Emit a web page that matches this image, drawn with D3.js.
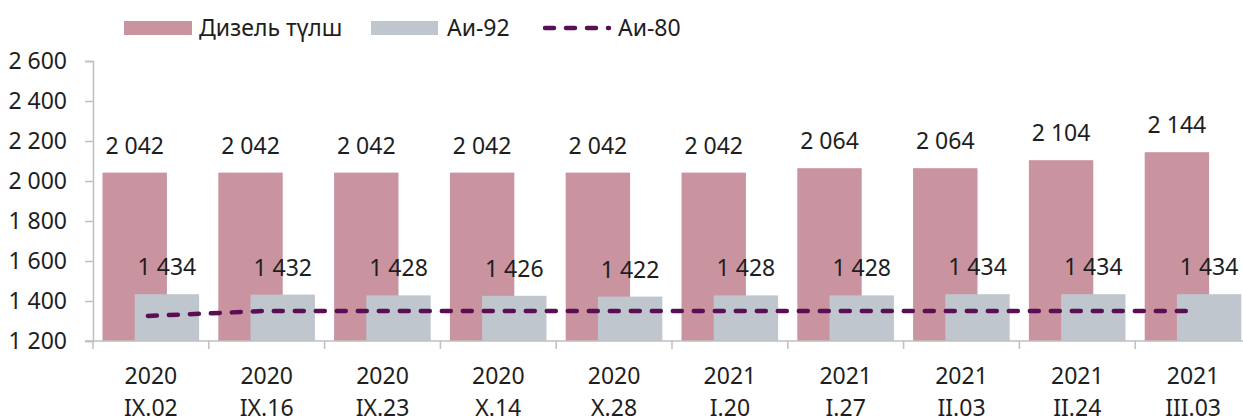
<!DOCTYPE html>
<html>
<head>
<meta charset="utf-8">
<script src="https://cdn.jsdelivr.net/npm/d3@7"></script>
<style>
  body { margin: 0; background: #fff; }
  svg { display: block; font-family: "Noto Sans", "Open Sans", sans-serif; }
</style>
</head>
<body>
<svg width="1243" height="417"></svg>
<script>
// data
var years = ["2020", "2020", "2020", "2020", "2020", "2021", "2021", "2021", "2021", "2021"];
var dates = ["IX.02", "IX.16", "IX.23", "X.14", "X.28", "I.20", "I.27", "II.03", "II.24", "III.03"];
var diesel = [2042, 2042, 2042, 2042, 2042, 2042, 2064, 2064, 2104, 2144];
var ai92 = [1434, 1432, 1428, 1426, 1422, 1428, 1428, 1434, 1434, 1434];
var ai80 = [1325, 1350, 1350, 1350, 1350, 1350, 1350, 1350, 1350, 1350];
var yTicks = [1200, 1400, 1600, 1800, 2000, 2200, 2400, 2600];

var cDiesel = "#c993a0", cAi92 = "#bfc6ce", cAi80 = "#5a0f55", cAxis = "#bfbfbf";
var fs = 23, txt = "#1e1e1e";

var svg = d3.select("svg");
var idx = d3.range(years.length);

// scales
var x = d3.scaleBand().domain(idx).range([93, 93 + 115.8 * 10]);
var y = d3.scaleLinear().domain([1200, 2600]).range([341, 61]);
var bw = 64.4;
var fmt = function(v) { return d3.format(",")(v).replace(",", " "); };

// y axis
var yAxis = svg.append("g").attr("transform", "translate(93,0)")
  .call(d3.axisLeft(y).tickValues(yTicks).tickSize(8).tickFormat(fmt));
yAxis.select(".domain").attr("stroke", cAxis).attr("stroke-width", 1.5);
yAxis.selectAll(".tick line").attr("stroke", cAxis).attr("stroke-width", 1.5);
yAxis.selectAll("text").attr("font-size", fs).attr("fill", txt)
  .attr("font-family", "Noto Sans").attr("x", -26).attr("text-anchor", "end");

// bars
svg.append("g").selectAll("rect").data(idx).join("rect")
  .attr("x", function(i) { return x(i) + 9.5; })
  .attr("y", function(i) { return y(diesel[i]); })
  .attr("width", bw)
  .attr("height", function(i) { return y(1200) - y(diesel[i]); })
  .attr("fill", cDiesel);

svg.append("g").selectAll("rect").data(idx).join("rect")
  .attr("x", function(i) { return x(i) + 9.5 + bw / 2; })
  .attr("y", function(i) { return y(ai92[i]); })
  .attr("width", bw)
  .attr("height", function(i) { return y(1200) - y(ai92[i]); })
  .attr("fill", cAi92);

// x axis
var xAxis = svg.append("g").attr("transform", "translate(0,341)");
xAxis.append("line").attr("x1", 85).attr("x2", 1243).attr("stroke", cAxis).attr("stroke-width", 1.5);
xAxis.selectAll("line.t").data(idx).join("line").attr("class", "t")
  .attr("x1", function(i) { return x(i); }).attr("x2", function(i) { return x(i); })
  .attr("y1", 0).attr("y2", 8).attr("stroke", cAxis).attr("stroke-width", 1.5);
var xl = xAxis.selectAll("text").data(idx).join("text")
  .attr("text-anchor", "middle").attr("font-size", fs).attr("fill", txt)
  .attr("transform", function(i) { return "translate(" + (x(i) + x.bandwidth() / 2) + ",0)"; });
xl.append("tspan").attr("x", 0).attr("y", 43).text(function(i) { return years[i]; });
xl.append("tspan").attr("x", 0).attr("y", 75).text(function(i) { return dates[i]; });

// Ai-80 line
var line = d3.line()
  .x(function(i) { return x(i) + x.bandwidth() / 2 - 3; })
  .y(function(i) { return y(ai80[i]); });
svg.append("path").datum(idx).attr("d", line)
  .attr("fill", "none").attr("stroke", cAi80).attr("stroke-width", 4.5)
  .attr("stroke-dasharray", "9,12").attr("stroke-linecap", "round");

// data labels
svg.append("g").selectAll("text").data(idx).join("text")
  .attr("x", function(i) { return x(i) + 9.5 + bw / 2; })
  .attr("y", function(i) { return y(diesel[i]) - 19; })
  .attr("text-anchor", "middle").attr("font-size", fs).attr("fill", txt)
  .text(function(i) { return fmt(diesel[i]); });
svg.append("g").selectAll("text").data(idx).join("text")
  .attr("x", function(i) { return x(i) + 9.5 + bw; })
  .attr("y", function(i) { return y(ai92[i]) - 19; })
  .attr("text-anchor", "middle").attr("font-size", fs).attr("fill", txt)
  .text(function(i) { return fmt(ai92[i]); });

// legend
var lg = svg.append("g");
lg.append("rect").attr("x", 124).attr("y", 21).attr("width", 68).attr("height", 14).attr("fill", cDiesel);
lg.append("text").attr("x", 199).attr("y", 36).attr("font-size", fs).attr("fill", txt).text("Дизель түлш");
lg.append("rect").attr("x", 371).attr("y", 21).attr("width", 67).attr("height", 14).attr("fill", cAi92);
lg.append("text").attr("x", 447).attr("y", 36).attr("font-size", fs).attr("fill", txt).text("Аи-92");
lg.append("line").attr("x1", 545).attr("x2", 609).attr("y1", 28).attr("y2", 28)
  .attr("stroke", cAi80).attr("stroke-width", 4.5).attr("stroke-dasharray", "9,12").attr("stroke-linecap", "round");
lg.append("text").attr("x", 618).attr("y", 36).attr("font-size", fs).attr("fill", txt).text("Аи-80");
</script>
</body>
</html>
